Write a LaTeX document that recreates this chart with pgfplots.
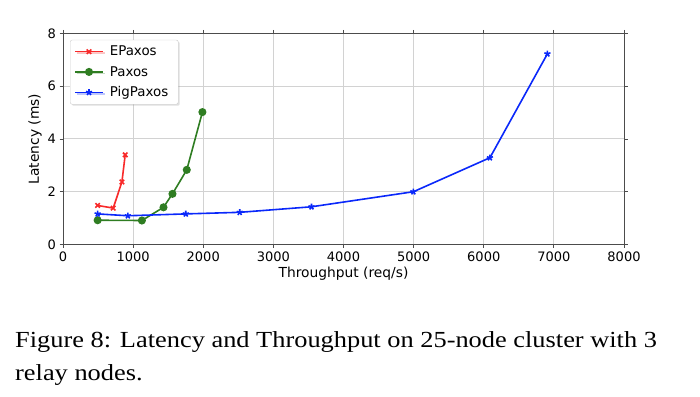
\documentclass[border=0pt]{standalone}
\usepackage{fontspec}
\setmainfont{DejaVu Sans}
\newfontfamily\capfont{Liberation Serif}
\usepackage{pgfplots}
\usetikzlibrary{shadows}
\pgfplotsset{compat=1.18}
\definecolor{ered}{HTML}{F82A2A}
\definecolor{pgreen}{HTML}{2F7D22}
\definecolor{pblue}{HTML}{0A28FA}
\begin{document}
\begin{tikzpicture}[x=1pt,y=1pt]
\path[use as bounding box] (0,0) rectangle (700,396);
\begin{axis}[
  at={(63pt,151.5pt)}, anchor=south west,
  scale only axis, width=561pt, height=211pt,
  xmin=0, xmax=8000, ymin=0, ymax=8,
  xtick={0,1000,...,8000}, ytick={0,2,4,6,8},
  scaled x ticks=false,
  /pgf/number format/assume math mode=true,
  /pgf/number format/1000 sep={},
  ticklabel style={font=\fontsize{13}{15}\selectfont},
  label style={font=\fontsize{13.8}{16}\selectfont},
  xlabel={Throughput (req/s)}, ylabel={Latency (ms)},
  xlabel style={yshift=1pt}, ylabel style={yshift=-1pt},
  grid=major, major grid style={gray!35, line width=1pt},
  axis line style={black!70, line width=0.8pt},
  tick align=outside, major tick length=3.5pt,
  tick style={black!70, line width=0.8pt},
  legend style={at={(0.0125,0.97)}, anchor=north west, font=\fontsize{13.4}{16}\selectfont,
    draw=black!20, rounded corners=2pt, fill=white, inner xsep=4pt, inner ysep=4pt, row sep=5pt,
    nodes={inner xsep=6pt},
    drop shadow={shadow xshift=1.5pt, shadow yshift=-1.5pt, opacity=0.25}},
  legend cell align=left,
  legend image code/.code={\draw[mark repeat=2, mark phase=2, #1] plot coordinates {(0pt,0pt) (14pt,0pt) (28pt,0pt)};},
]
\addplot[ered, line width=1.6pt, mark=x, mark size=3.2pt] coordinates {
 (494,1.48) (716,1.38) (840,2.37) (887,3.40)};
\addlegendentry{EPaxos}
\addplot[pgreen, line width=1.6pt, mark=*, mark size=3.2pt] coordinates {
 (494,0.92) (1125,0.91) (1433,1.41) (1561,1.92) (1765,2.83) (1988,5.02)};
\addlegendentry{Paxos}
\addplot[pblue, line width=1.6pt, mark=star, mark size=3.2pt] coordinates {
 (494,1.16) (925,1.09) (1751,1.16) (2520,1.22) (3544,1.43) (4996,2.0) (6088,3.29) (6908,7.23)};
\addlegendentry{PigPaxos}
\end{axis}
\node[anchor=base west, inner sep=0pt, font=\capfont\fontsize{23}{26}\selectfont] at (15,396-347) {\scalebox{1.147}[1]{Figure 8: Latency and Throughput on 25-node cluster with 3}};
\node[anchor=base west, inner sep=0pt, font=\capfont\fontsize{23}{26}\selectfont] at (15,396-380) {\scalebox{1.147}[1]{relay nodes.}};
\end{tikzpicture}
\end{document}
